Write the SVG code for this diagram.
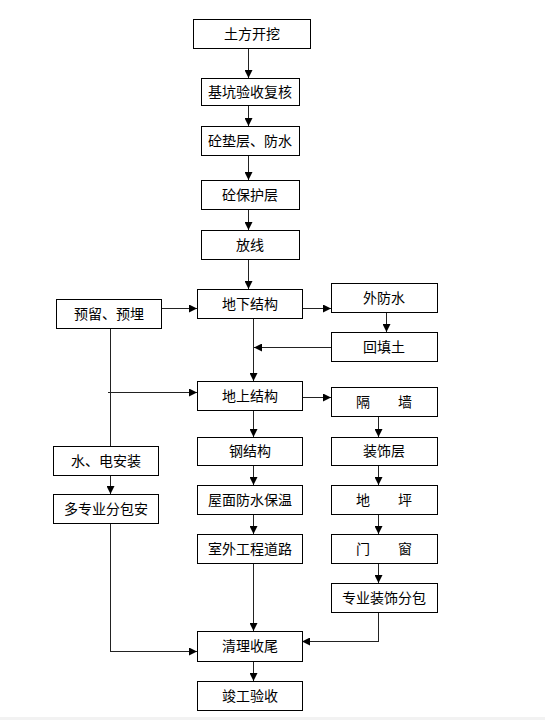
<svg xmlns="http://www.w3.org/2000/svg" width="545" height="720" viewBox="0 0 545 720">
<style>
.b rect{fill:#fff;stroke:#000;stroke-width:1;shape-rendering:crispEdges}
.b text{font-family:"Noto Sans CJK SC","Liberation Sans",sans-serif;font-size:14px;fill:#000;text-anchor:middle}
.c path{fill:none;stroke:#222;stroke-width:1;shape-rendering:crispEdges}
.c path.a{marker-end:url(#ah)}
</style>
<defs>
<marker id="ah" markerUnits="userSpaceOnUse" markerWidth="8" markerHeight="8" refX="8" refY="4" orient="auto">
<path d="M0,0 L8,4 L0,8 z" fill="#000"/>
</marker>
</defs>
<rect x="0" y="0" width="545" height="720" fill="#fff"/>
<rect x="0" y="717" width="545" height="3" fill="#f2f2f2"/>
<g class="c" id="connectors">
<path class="a" d="M248.5,48 V78"/>
<path class="a" d="M248.5,106 V126"/>
<path class="a" d="M248.5,155 V180"/>
<path class="a" d="M248.5,209 V230"/>
<path class="a" d="M248.5,259 V289"/>
<path class="a" d="M161,308.5 H197"/>
<path class="a" d="M302,308.5 H331"/>
<path class="a" d="M386.5,312 V332"/>
<path class="a" d="M331,347.5 H254"/>
<path class="a" d="M253.5,318 V381"/>
<path d="M110.5,328 V446"/>
<path class="a" d="M108,392.5 H197"/>
<path class="a" d="M302,397.5 H331"/>
<path class="a" d="M378.5,416 V437"/>
<path class="a" d="M378.5,465 V485"/>
<path class="a" d="M378.5,514 V534"/>
<path class="a" d="M378.5,563 V583"/>
<path class="a" d="M378.5,612 V641.5 H302"/>
<path class="a" d="M253.5,410 V437"/>
<path class="a" d="M253.5,465 V485"/>
<path class="a" d="M253.5,514 V534"/>
<path class="a" d="M253.5,563 V631"/>
<path class="a" d="M253.5,661 V681"/>
<path class="a" d="M110.5,475 V494"/>
<path class="a" d="M110.5,523 V651.5 H197"/>
</g>
<g class="b" id="n1"><rect x="193.5" y="19.5" width="117" height="29"/><text x="252" y="39">土方开挖</text></g>
<g class="b" id="n2"><rect x="201.5" y="78.5" width="98" height="27"/><text x="250" y="97">基坑验收复核</text></g>
<g class="b" id="n3"><rect x="201.5" y="126.5" width="98" height="29"/><text x="250" y="146">砼垫层、防水</text></g>
<g class="b" id="n4"><rect x="201.5" y="180.5" width="98" height="29"/><text x="250" y="200">砼保护层</text></g>
<g class="b" id="n5"><rect x="201.5" y="230.5" width="98" height="29"/><text x="250" y="250">放线</text></g>
<g class="b" id="n6"><rect x="197.5" y="289.5" width="105" height="29"/><text x="250" y="309">地下结构</text></g>
<g class="b" id="n7"><rect x="331.5" y="283.5" width="106" height="29"/><text x="384" y="303">外防水</text></g>
<g class="b" id="n8"><rect x="331.5" y="332.5" width="106" height="29"/><text x="384" y="352">回填土</text></g>
<g class="b" id="n9"><rect x="56.5" y="299.5" width="105" height="29"/><text x="109" y="319">预留、预埋</text></g>
<g class="b" id="n10"><rect x="197.5" y="381.5" width="105" height="29"/><text x="250" y="401">地上结构</text></g>
<g class="b" id="n11"><rect x="331.5" y="387.5" width="106" height="29"/><text x="384" y="407" xml:space="preserve">隔　　墙</text></g>
<g class="b" id="n12"><rect x="197.5" y="437.5" width="105" height="28"/><text x="250" y="456">钢结构</text></g>
<g class="b" id="n13"><rect x="331.5" y="437.5" width="106" height="28"/><text x="384" y="456">装饰层</text></g>
<g class="b" id="n14"><rect x="53.5" y="446.5" width="105" height="29"/><text x="106" y="466">水、电安装</text></g>
<g class="b" id="n15"><rect x="53.5" y="494.5" width="105" height="29"/><text x="106" y="514">多专业分包安</text></g>
<g class="b" id="n16"><rect x="197.5" y="485.5" width="105" height="29"/><text x="250" y="505">屋面防水保温</text></g>
<g class="b" id="n17"><rect x="331.5" y="485.5" width="106" height="29"/><text x="384" y="505" xml:space="preserve">地　　坪</text></g>
<g class="b" id="n18"><rect x="197.5" y="534.5" width="105" height="29"/><text x="250" y="554">室外工程道路</text></g>
<g class="b" id="n19"><rect x="331.5" y="534.5" width="106" height="29"/><text x="384" y="554" xml:space="preserve">门　　窗</text></g>
<g class="b" id="n20"><rect x="331.5" y="583.5" width="106" height="29"/><text x="384" y="603">专业装饰分包</text></g>
<g class="b" id="n21"><rect x="197.5" y="631.5" width="105" height="30"/><text x="250" y="651">清理收尾</text></g>
<g class="b" id="n22"><rect x="197.5" y="681.5" width="105" height="29"/><text x="250" y="701">竣工验收</text></g>
</svg>
